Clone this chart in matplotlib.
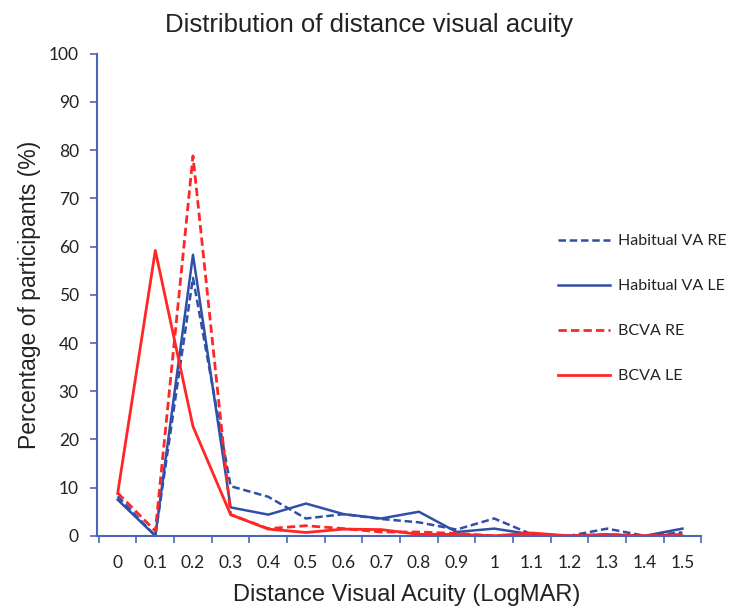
import matplotlib
matplotlib.use('Agg')
import matplotlib.pyplot as plt
import numpy as np

va_labels = ['0', '0.1', '0.2', '0.3', '0.4', '0.5', '0.6', '0.7',
             '0.8', '0.9', '1', '1.1', '1.2', '1.3', '1.4', '1.5']
hab_re = [8.2, 0, 53.5, 10.3, 8.1, 3.6, 4.5, 3.5, 2.8, 1.3, 3.6, 0.3, 0, 1.5, 0, 0.7]
hab_le = [7.5, 0, 58.3, 5.9, 4.4, 6.7, 4.5, 3.6, 5.0, 0.8, 1.5, 0.3, 0, 0.3, 0, 1.5]
bcva_re = [8.9, 1.0, 78.8, 4.4, 1.5, 2.1, 1.5, 0.8, 0.8, 0.5, 0, 0.3, 0, 0.3, 0, 0.3]
bcva_le = [8.8, 59.2, 22.7, 4.4, 1.4, 0.7, 1.4, 1.3, 0.3, 0.3, 0, 0.6, 0, 0, 0, 0]

blue = '#2f4fa8'
red = '#ff2626'
axcol = '#4a66b8'

fig = plt.figure(figsize=(7.29, 6.11), dpi=100)
ax = fig.add_axes([0.133, 0.123, 0.829, 0.789])

x = np.arange(len(va_labels))
ax.plot(x, hab_re, color=blue, lw=1.8, ls=(0, (3, 1.5)), label='Habitual VA RE')
ax.plot(x, hab_le, color=blue, lw=1.8, label='Habitual VA LE')
ax.plot(x, bcva_re, color=red, lw=2.0, ls=(0, (3, 1.5)), label='BCVA RE')
ax.plot(x, bcva_le, color=red, lw=2.0, label='BCVA LE')

ax.set_xlim(-0.55, 15.5)
ax.set_ylim(0, 100)
ax.set_xticks(x)
ax.set_xticklabels(va_labels)
ax.set_xticks(np.arange(-0.5, 15.6, 1), minor=True)
ax.tick_params(axis='x', which='major', length=0, pad=14, labelsize=12.5, labelcolor='#222222')
ax.tick_params(axis='x', which='minor', length=5, width=1.2, color=axcol, direction='out')
ax.set_yticks(np.arange(0, 101, 10))
ax.tick_params(axis='y', length=5, width=1.2, color=axcol, labelsize=12.5, labelcolor='#222222', pad=8)
for lab in ax.get_xticklabels() + ax.get_yticklabels():
    lab.set_family('Lato')

for s in ['top', 'right']:
    ax.spines[s].set_visible(False)
for s in ['left', 'bottom']:
    ax.spines[s].set_color(axcol)
    ax.spines[s].set_linewidth(1.5)

# title sits a little left of the axes centre in the original
ax.set_title('Distribution of distance visual acuity', fontsize=18.5, family='Liberation Sans',
             color='#222222', pad=16, x=0.45)
ax.set_xlabel('Distance Visual Acuity (LogMAR)', fontsize=17, family='Liberation Sans',
              color='#222222', labelpad=10)
ax.xaxis.set_label_coords(0.513, -0.1)
ax.set_ylabel('Percentage of participants (%)', fontsize=16.5, family='Liberation Sans',
              color='#222222', labelpad=6)

leg = ax.legend(loc='upper left', bbox_to_anchor=(0.754, 0.63), bbox_transform=fig.transFigure,
                frameon=False, borderpad=0, handlelength=3.3, labelspacing=1.93,
                handletextpad=0.45, prop={'family': 'Lato', 'size': 11.5})
for t in leg.get_texts():
    t.set_color('#222222')

fig.savefig('out.png', dpi=100)
